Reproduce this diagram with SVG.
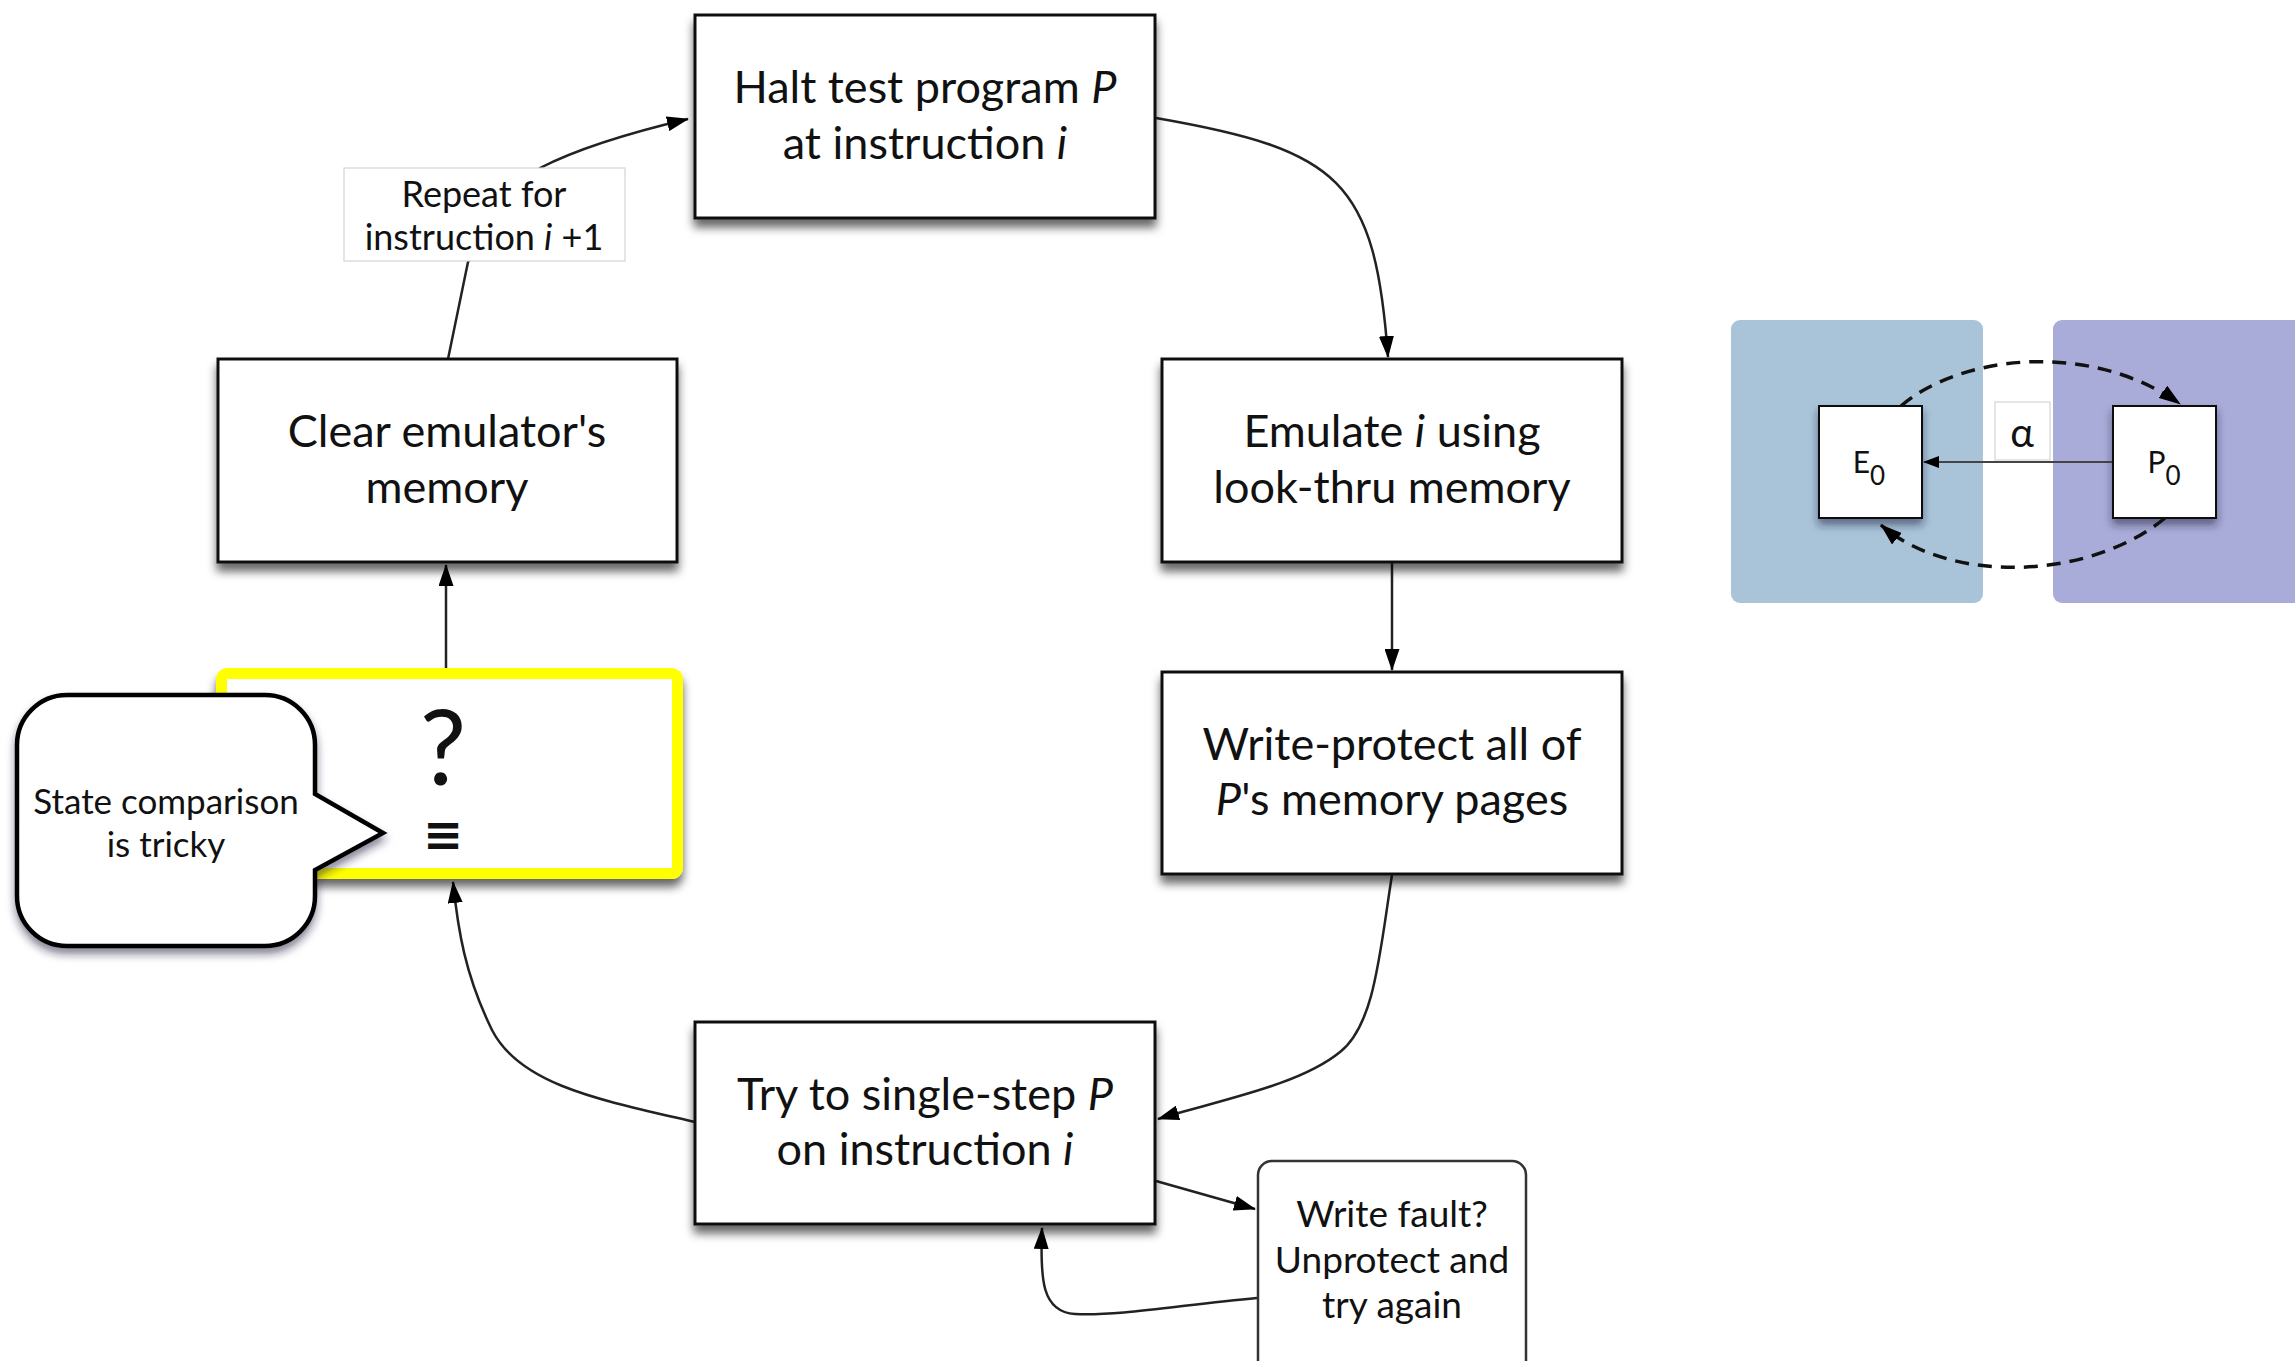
<svg xmlns="http://www.w3.org/2000/svg" width="2295" height="1361" viewBox="0 0 2295 1361">
  <defs>
    <filter id="drop" x="-10%" y="-10%" width="120%" height="135%">
      <feDropShadow dx="0" dy="8" stdDeviation="5" flood-color="#000" flood-opacity="0.6"/>
    </filter>
    <filter id="dropSmall" x="-15%" y="-15%" width="130%" height="140%">
      <feDropShadow dx="0" dy="6" stdDeviation="4" flood-color="#1a1a40" flood-opacity="0.55"/>
    </filter>
    <marker id="arrow" viewBox="0 0 22 15" markerWidth="22" markerHeight="15" refX="21" refY="7.5" orient="auto" markerUnits="userSpaceOnUse">
      <path d="M0,0 L22,7.5 L0,15 Z" fill="#000"/>
    </marker>
    <marker id="arrowSmall" viewBox="0 0 16 12" markerWidth="16" markerHeight="12" refX="15" refY="6" orient="auto" markerUnits="userSpaceOnUse">
      <path d="M0,0 L16,6 L0,12 Z" fill="#000"/>
    </marker>
    <style>
      .box { fill: #fff; stroke: #111; stroke-width: 3; }
      .label { font-family: Lato, "Liberation Sans", sans-serif; fill: #111; text-anchor: middle; }
      .main { font-size: 45px; }
      .it { font-style: italic; }
      .conn { fill: none; stroke: #222; stroke-width: 2.5; }
      .dash { fill: none; stroke: #111; stroke-width: 3.5; stroke-dasharray: 14 9; }
      .tag { fill: #fff; stroke: #d4d4d4; stroke-width: 1.2; }
    </style>
  </defs>

  <rect width="2295" height="1361" fill="#fff"/>

  <!-- connectors of the main cycle -->
  <g id="connectors">
    <path class="conn" d="M1156,118 C1340,150 1375,180 1388,357" marker-end="url(#arrow)"/>
    <path class="conn" d="M1392,562 L1392,670" marker-end="url(#arrow)"/>
    <path class="conn" d="M1392,875 C1380,950 1375,1025 1340,1052 C1300,1085 1220,1100 1158,1119" marker-end="url(#arrow)"/>
    <path class="conn" d="M1156,1181 L1255,1209" marker-end="url(#arrow)"/>
    <path class="conn" d="M1257,1298 C1180,1305 1120,1316 1075,1314 C1042,1312 1040,1280 1042,1228" marker-end="url(#arrow)"/>
    <path class="conn" d="M695,1122 C600,1100 520,1085 492,1030 C465,975 458,930 453,882" marker-end="url(#arrow)"/>
    <path class="conn" d="M446,668 L446,565" marker-end="url(#arrow)"/>
    <path class="conn" d="M448,359 L468,262 L540,168 C575,150 620,135 688,119" marker-end="url(#arrow)"/>
  </g>

  <!-- edge label on the repeat connector -->
  <g id="repeat-label">
    <rect class="tag" x="344" y="168" width="281" height="93"/>
    <text class="label" x="484" y="207" font-size="36">Repeat for</text>
    <text class="label" x="484" y="250" font-size="36">instruction <tspan class="it">i</tspan> +1</text>
  </g>

  <g id="halt">
    <rect class="box" x="695" y="15" width="460" height="203" filter="url(#drop)"/>
    <text class="label main" x="925" y="103">Halt test program <tspan class="it">P</tspan></text>
    <text class="label main" x="925" y="159">at instruction <tspan class="it">i</tspan></text>
  </g>

  <g id="emulate">
    <rect class="box" x="1162" y="359" width="460" height="203" filter="url(#drop)"/>
    <text class="label main" x="1392" y="447">Emulate <tspan class="it">i</tspan> using</text>
    <text class="label main" x="1392" y="503">look-thru memory</text>
  </g>

  <g id="write-protect">
    <rect class="box" x="1162" y="672" width="460" height="202" filter="url(#drop)"/>
    <text class="label main" x="1392" y="760">Write-protect all of</text>
    <text class="label main" x="1392" y="815"><tspan class="it">P</tspan>'s memory pages</text>
  </g>

  <g id="single-step">
    <rect class="box" x="695" y="1022" width="460" height="202" filter="url(#drop)"/>
    <text class="label main" x="925" y="1110">Try to single-step <tspan class="it">P</tspan></text>
    <text class="label main" x="925" y="1165">on instruction <tspan class="it">i</tspan></text>
  </g>

  <g id="write-fault">
    <rect x="1258" y="1161" width="268" height="215" rx="14" fill="#fff" stroke="#333" stroke-width="2.5"/>
    <text class="label" x="1392" y="1227" font-size="37">Write fault?</text>
    <text class="label" x="1392" y="1273" font-size="37">Unprotect and</text>
    <text class="label" x="1392" y="1318" font-size="37">try again</text>
  </g>

  <g id="clear">
    <rect class="box" x="218" y="359" width="459" height="203" filter="url(#drop)"/>
    <text class="label main" x="447" y="447">Clear emulator's</text>
    <text class="label main" x="447" y="503">memory</text>
  </g>

  <g id="compare">
    <rect x="221.5" y="673.5" width="456" height="200" rx="6" fill="#fff" stroke="#ffff00" stroke-width="11" filter="url(#drop)"/>
    <text class="label" x="443" y="785" font-size="104">?</text>
    <text x="443" y="851" font-size="48" font-weight="bold" font-family="'DejaVu Sans', sans-serif" text-anchor="middle" fill="#111">≡</text>
  </g>

  <g id="callout">
    <path d="M67,695 H265 A50,50 0 0 1 315,745 V794 L383,833 L315,870 V896 A50,50 0 0 1 265,946 H67 A50,50 0 0 1 17,896 V745 A50,50 0 0 1 67,695 Z" fill="#fff" stroke="#000" stroke-width="4.5" stroke-linejoin="miter" filter="url(#dropSmall)"/>
    <text class="label" x="166" y="814" font-size="35">State comparison</text>
    <text class="label" x="166" y="857" font-size="35">is tricky</text>
  </g>

  <!-- E0 / P0 mapping panel -->
  <g id="panel-e">
    <rect x="1731" y="320" width="252" height="283" rx="9" fill="#a9c4d9"/>
  </g>
  <g id="panel-p">
    <rect x="2053" y="320" width="262" height="283" rx="9" fill="#a9acd8"/>
  </g>

  <g id="alpha-label">
    <rect class="tag" x="1995" y="402" width="55" height="58"/>
    <text x="2022" y="447" font-family="Lato, 'DejaVu Sans', sans-serif" font-size="40" text-anchor="middle" fill="#111">α</text>
  </g>

  <g id="panel-connectors">
    <path d="M2113,462 L1924,462" fill="none" stroke="#444" stroke-width="2" marker-end="url(#arrowSmall)"/>
  </g>

  <g id="e0">
    <rect x="1819" y="406" width="103" height="112" fill="#fff" stroke="#111" stroke-width="2" filter="url(#dropSmall)"/>
    <text class="label" x="1869" y="473" font-size="30">E<tspan dy="12" font-size="26">0</tspan></text>
  </g>

  <g id="p0">
    <rect x="2113" y="406" width="103" height="112" fill="#fff" stroke="#111" stroke-width="2" filter="url(#dropSmall)"/>
    <text class="label" x="2164" y="473" font-size="30">P<tspan dy="12" font-size="26">0</tspan></text>
  </g>

  <g id="panel-arcs">
    <path class="dash" d="M1901,406 C1960,355 2090,340 2180,404" marker-end="url(#arrow)"/>
    <path class="dash" d="M2165,518 C2090,580 1950,585 1881,525" marker-end="url(#arrow)"/>
  </g>
</svg>
